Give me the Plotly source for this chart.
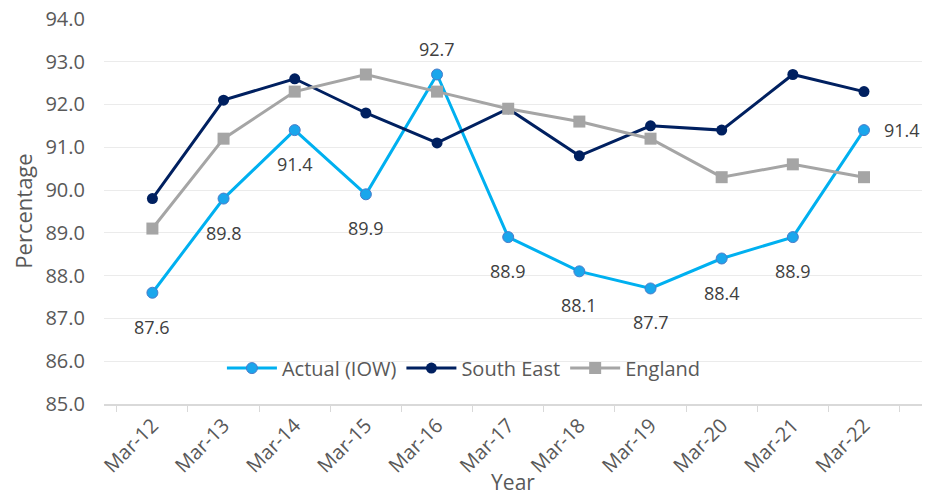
import plotly.graph_objects as go

years = ["Mar-12", "Mar-13", "Mar-14", "Mar-15", "Mar-16", "Mar-17",
         "Mar-18", "Mar-19", "Mar-20", "Mar-21", "Mar-22"]
actual_iow = [87.6, 89.8, 91.4, 89.9, 92.7, 88.9, 88.1, 87.7, 88.4, 88.9, 91.4]
south_east = [89.8, 92.1, 92.6, 91.8, 91.1, 91.9, 90.8, 91.5, 91.4, 92.7, 92.3]
england = [89.1, 91.2, 92.3, 92.7, 92.3, 91.9, 91.6, 91.2, 90.3, 90.6, 90.3]
label_pos = ["below", "below", "below", "below", "above", "below",
             "below", "below", "below", "below", "right"]

FONT = "Open Sans, Liberation Sans, sans-serif"

fig = go.Figure()
fig.add_trace(go.Scatter(
    x=years, y=actual_iow, name="Actual (IOW)", mode="lines+markers",
    line=dict(color="#00B0F0", width=3),
    marker=dict(symbol="circle", size=11, color="#1AA6EC",
                line=dict(color="#4A7CC9", width=1)),
))
fig.add_trace(go.Scatter(
    x=years, y=south_east, name="South East", mode="lines+markers",
    line=dict(color="#002060", width=3),
    marker=dict(symbol="circle", size=11, color="#002060"),
))
fig.add_trace(go.Scatter(
    x=years, y=england, name="England", mode="lines+markers",
    line=dict(color="#A5A5A5", width=3),
    marker=dict(symbol="square", size=12, color="#A5A5A5"),
))

for xv, yv, pos in zip(years, actual_iow, label_pos):
    kw = dict(x=xv, y=yv, text=f"{yv:.1f}", showarrow=False,
              font=dict(family=FONT, size=18, color="#404040"))
    if pos == "below":
        kw["yshift"] = -34
    elif pos == "above":
        kw["yshift"] = 25
    else:
        kw["xshift"] = 38
    fig.add_annotation(**kw)

fig.update_layout(
    width=924, height=488,
    margin=dict(l=96, r=10, t=10, b=92, autoexpand=False),
    paper_bgcolor="white", plot_bgcolor="white",
    font=dict(family=FONT, color="#595959"),
    legend=dict(orientation="h", x=0.44, xanchor="center", y=0.093,
                yanchor="middle", bgcolor="rgba(0,0,0,0)",
                font=dict(family=FONT, size=20, color="#595959"),
                itemwidth=50, tracegroupgap=0),
    xaxis=dict(
        type="category", tickangle=-45, showgrid=False, automargin=False,
        showline=True, linecolor="#D9D9D9", linewidth=1.5,
        ticks="outside", tickson="boundaries", ticklen=6, tickcolor="#D9D9D9",
        ticklabeloverflow="allow",
        tickfont=dict(family=FONT, size=20, color="#595959"),
        title=dict(text="Year", font=dict(family=FONT, size=21, color="#595959"),
                   standoff=6),
    ),
    yaxis=dict(
        range=[85, 94.02], dtick=1, tick0=85, tickformat=".1f", automargin=False,
        showgrid=True, gridcolor="#EBEBEB", gridwidth=1.2,
        zeroline=False, showline=False, ticks="",
        ticklabeloverflow="allow", ticklabelstandoff=18,
        tickfont=dict(family=FONT, size=20, color="#595959"),
        title=dict(text="Percentage", font=dict(family=FONT, size=22, color="#595959"),
                   standoff=9),
    ),
)

fig.write_html("out.html")
